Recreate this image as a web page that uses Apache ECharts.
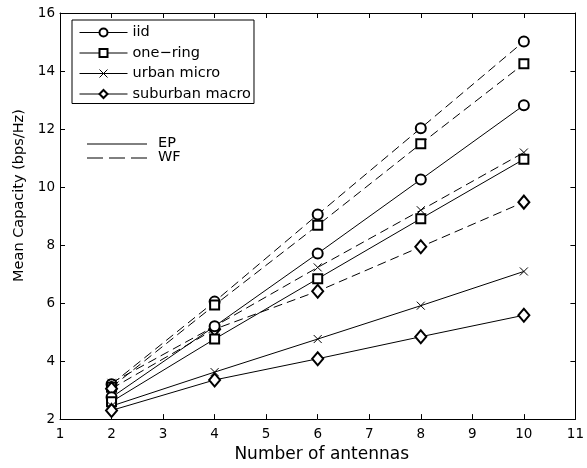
<!DOCTYPE html>
<html>
<head>
<meta charset="utf-8">
<script src="https://cdn.jsdelivr.net/npm/echarts@6/dist/echarts.min.js"></script>
<style>
  html, body { margin: 0; padding: 0; background: #fff; }
  #chart { width: 587px; height: 468px; }
</style>
</head>
<body>
<div id="chart"></div>
<script>
// values
const antennas = [2, 4, 6, 8, 10];
const iidEP = [2.75, 5.2, 7.71, 10.26, 12.82];
const iidWF = [3.2, 6.05, 9.05, 12.03, 15.02];
const oneRingEP = [2.6, 4.76, 6.84, 8.91, 10.96];
const oneRingWF = [3.1, 5.93, 8.68, 11.49, 14.25];
const urbanEP = [2.45, 3.62, 4.76, 5.91, 7.09];
const urbanWF = [3.25, 5.2, 7.23, 9.2, 11.19];
const suburbanEP = [2.3, 3.35, 4.08, 4.84, 5.58];
const suburbanWF = [3.05, 5.1, 6.41, 7.94, 9.48];
const legendNames = ['iid', 'one\u2212ring', 'urban micro', 'suburban macro'];

const font = 'DejaVu Sans, sans-serif';
const crossPath = 'path://M0,0L10,10M10,0L0,10';

function pairs(ys) {
  return antennas.map((x, i) => [x, ys[i]]);
}

function makeSeries(name, ys, symbol, size, dashed) {
  return {
    name: name,
    type: 'line',
    data: pairs(ys),
    symbol: symbol,
    symbolSize: size,
    showSymbol: true,
    lineStyle: { color: '#000', width: 1, type: dashed ? [9, 5] : 'solid' },
    itemStyle: { color: '#000', borderColor: '#000', borderWidth: 1 },
    emphasis: { disabled: true },
    z: dashed ? 3 : 4
  };
}

const chart = echarts.init(document.getElementById('chart'), null, { renderer: 'canvas' });

function axisCommon() {
  return {
    axisLine: { show: true, onZero: false, lineStyle: { color: '#000', width: 1 } },
    axisTick: { show: true, inside: true, length: 5, lineStyle: { color: '#000', width: 1 } },
    splitLine: { show: false }
  };
}

const option = {
  backgroundColor: '#fff',
  animation: false,
  textStyle: { fontFamily: font },
  grid: { left: 60, right: 6, top: 13, bottom: 45, containLabel: false },
  xAxis: [
    Object.assign({
      type: 'value', min: 1, max: 11, interval: 1, position: 'bottom',
      axisLabel: { color: '#000', fontSize: 13.5, margin: 8, fontFamily: font },
      name: 'Number of antennas', nameLocation: 'middle', nameGap: 24,
      nameTextStyle: { color: '#000', fontSize: 17, fontFamily: font, padding: [0, 0, 0, 8] }
    }, axisCommon()),
    Object.assign({
      type: 'value', min: 1, max: 11, interval: 1, position: 'top',
      axisLabel: { show: false }
    }, axisCommon())
  ],
  yAxis: [
    Object.assign({
      type: 'value', min: 2, max: 16, interval: 2, position: 'left',
      axisLabel: { color: '#000', fontSize: 13.5, margin: 5, fontFamily: font },
      name: 'Mean Capacity (bps/Hz)', nameLocation: 'middle', nameGap: 32,
      nameTextStyle: { color: '#000', fontSize: 14.5, fontFamily: font, padding: [0, 0, 0, 41] }
    }, axisCommon()),
    Object.assign({
      type: 'value', min: 2, max: 16, interval: 2, position: 'right',
      axisLabel: { show: false }
    }, axisCommon())
  ],
  legend: {
    data: legendNames,
    orient: 'vertical',
    left: 72, top: 20,
    padding: [5, 3, 2, 7],
    itemWidth: 48, itemHeight: 10, itemGap: 5.5,
    borderColor: '#000', borderWidth: 1, borderRadius: 0,
    backgroundColor: '#fff',
    selectedMode: false,
    lineStyle: { width: 1 },
    itemStyle: { borderWidth: 1 },
    textStyle: { color: '#000', fontSize: 14.5, fontFamily: font }
  },
  graphic: [
    { type: 'line', shape: { x1: 87, y1: 144, x2: 147, y2: 144 }, style: { stroke: '#000', lineWidth: 1 } },
    { type: 'line', shape: { x1: 87, y1: 158, x2: 147, y2: 158 }, style: { stroke: '#000', lineWidth: 1, lineDash: [16, 6] } },
    { type: 'text', left: 158, top: 136, style: { text: 'EP', fill: '#000', font: '14.5px ' + font } },
    { type: 'text', left: 158, top: 150, style: { text: 'WF', fill: '#000', font: '14.5px ' + font } }
  ],
  series: [
    makeSeries('iid', iidEP, 'emptyCircle', 10, false),
    makeSeries('one\u2212ring', oneRingEP, 'emptyRect', 9, false),
    makeSeries('urban micro', urbanEP, crossPath, 8, false),
    makeSeries('suburban macro', suburbanEP, 'emptyDiamond', [11, 13], false),
    makeSeries('iid WF', iidWF, 'emptyCircle', 10, true),
    makeSeries('one-ring WF', oneRingWF, 'emptyRect', 9, true),
    makeSeries('urban micro WF', urbanWF, crossPath, 8, true),
    makeSeries('suburban macro WF', suburbanWF, 'emptyDiamond', [11, 13], true)
  ]
};

chart.setOption(option);
</script>
</body>
</html>
